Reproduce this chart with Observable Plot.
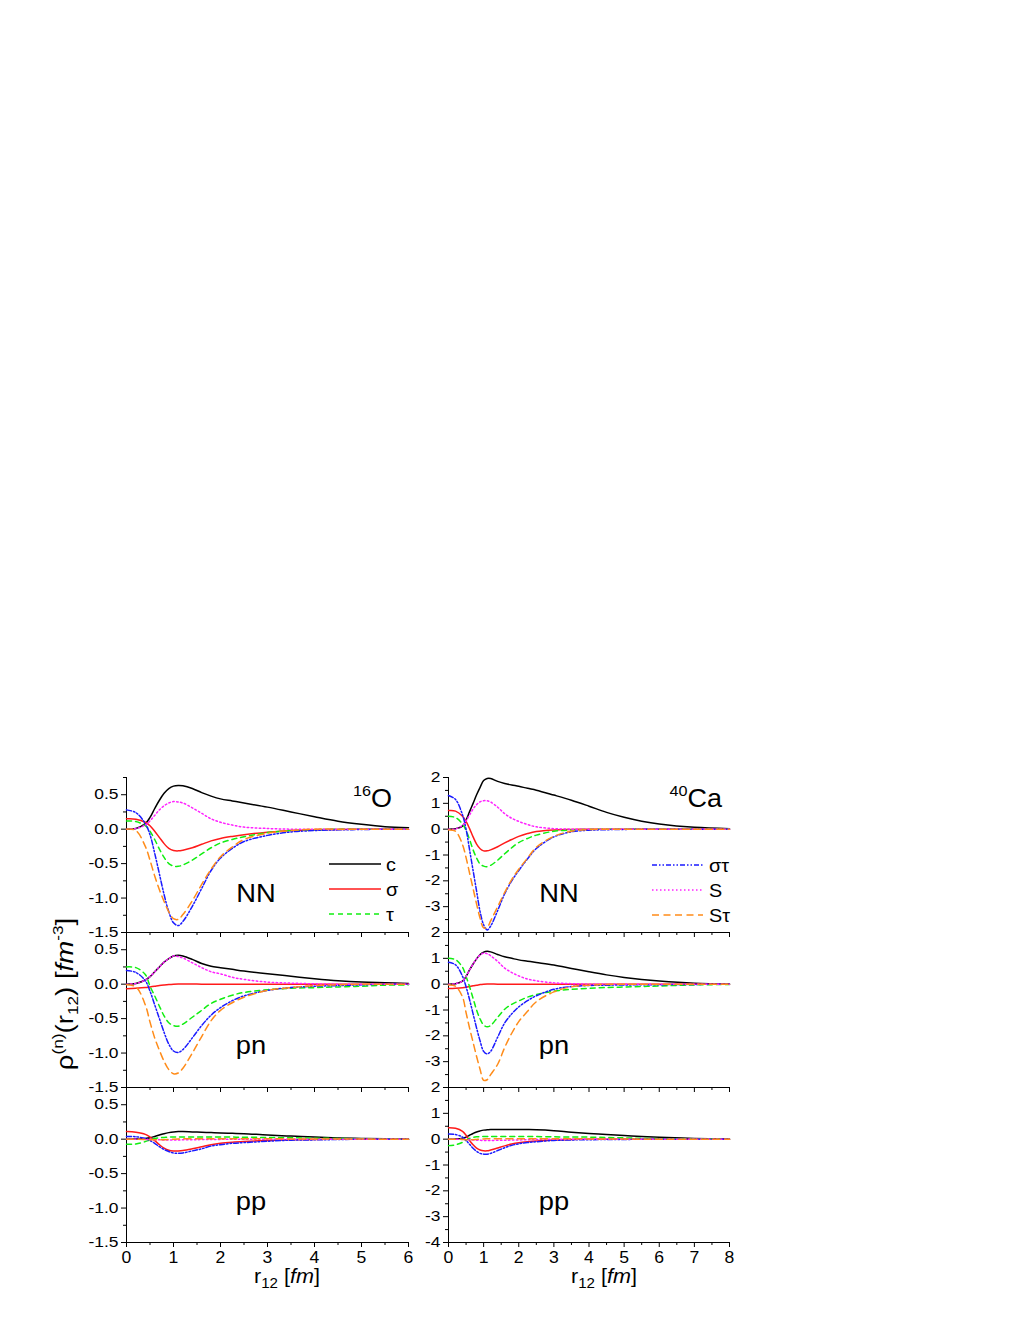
<!DOCTYPE html>
<html><head><meta charset="utf-8">
<script src="https://cdn.jsdelivr.net/npm/d3@7"></script>
<script src="https://cdn.jsdelivr.net/npm/@observablehq/plot@0.6"></script>
<style>
body{margin:0;background:#fff;font-family:"Liberation Sans",Arial,sans-serif;}
#root{position:relative;width:1035px;height:1340px;overflow:hidden;}
#root svg{position:absolute;overflow:visible;}
</style></head><body><div id="root"></div>
<script>
// ---- x grids (r12 in fm) ----
const GRID_O  = [0,0.2,0.4,0.5,0.6,0.7,0.8,0.9,1.0,1.1,1.2,1.4,1.6,1.8,2.0,2.25,2.5,3,3.5,4,4.5,5,5.5,6];
const GRID_CA = [0,0.2,0.4,0.5,0.6,0.7,0.8,0.9,1.0,1.1,1.2,1.4,1.6,1.8,2.0,2.25,2.5,3,3.5,4,4.5,5,5.5,6,7,8];

// ---- 16O NN ----
const O16_NN_c   = [0,0.01,0.08,0.17,0.3,0.42,0.52,0.59,0.625,0.635,0.63,0.59,0.53,0.48,0.44,0.41,0.38,0.32,0.25,0.18,0.115,0.07,0.035,0.02];
const O16_NN_sig = [0.15,0.145,0.1,0.05,-0.03,-0.12,-0.21,-0.28,-0.31,-0.315,-0.305,-0.27,-0.22,-0.17,-0.135,-0.105,-0.08,-0.045,-0.02,-0.01,-0.005,0,0,0];
const O16_NN_tau = [0.12,0.11,0.05,-0.03,-0.15,-0.29,-0.41,-0.5,-0.535,-0.54,-0.52,-0.45,-0.36,-0.27,-0.2,-0.15,-0.11,-0.05,-0.02,-0.01,0,0,0,0];
const O16_NN_st  = [0.28,0.24,0.08,-0.08,-0.35,-0.65,-0.95,-1.2,-1.36,-1.4,-1.34,-1.12,-0.86,-0.6,-0.42,-0.28,-0.18,-0.09,-0.04,-0.02,-0.01,-0.005,0,0];
const O16_NN_S   = [0,0.01,0.06,0.12,0.2,0.28,0.34,0.38,0.40,0.395,0.38,0.31,0.23,0.15,0.1,0.06,0.03,0.01,0,0,0,0,0,0];
const O16_NN_St  = [0,-0.02,-0.25,-0.45,-0.68,-0.88,-1.05,-1.2,-1.3,-1.31,-1.24,-1.04,-0.8,-0.58,-0.4,-0.26,-0.15,-0.06,-0.02,0,0,0,0,0];

// ---- 40Ca NN ----
const CA40_NN_c   = [0,0.02,0.12,0.35,0.68,1.0,1.33,1.62,1.88,1.96,1.96,1.85,1.77,1.71,1.66,1.58,1.51,1.32,1.12,0.89,0.65,0.46,0.31,0.2,0.07,0.02];
const CA40_NN_sig = [0.72,0.7,0.5,0.3,0.02,-0.3,-0.58,-0.76,-0.84,-0.84,-0.8,-0.68,-0.53,-0.4,-0.28,-0.17,-0.09,-0.03,-0.01,0,0,0,0,0,0,0];
const CA40_NN_tau = [0.5,0.45,0.2,-0.05,-0.4,-0.8,-1.12,-1.35,-1.43,-1.45,-1.4,-1.2,-0.95,-0.72,-0.52,-0.36,-0.23,-0.08,-0.03,-0.01,0,0,0,0,0,0];
const CA40_NN_st  = [1.3,1.15,0.55,0.0,-0.8,-1.6,-2.4,-3.2,-3.7,-3.9,-3.75,-3.15,-2.5,-2.0,-1.6,-1.15,-0.75,-0.3,-0.1,-0.04,-0.02,-0.01,0,0,0,0];
const CA40_NN_S   = [0,0.01,0.15,0.32,0.55,0.78,0.95,1.06,1.1,1.1,1.05,0.85,0.6,0.42,0.3,0.18,0.09,0.02,0,0,0,0,0,0,0,0];
const CA40_NN_St  = [-0.03,-0.08,-0.6,-1.1,-1.7,-2.3,-2.9,-3.45,-3.82,-3.8,-3.55,-3.0,-2.45,-1.95,-1.55,-1.12,-0.7,-0.28,-0.08,-0.02,0,0,0,0,0,0];

// ---- 16O pn ----
const O16_PN_c   = [0,0.01,0.06,0.11,0.18,0.25,0.32,0.37,0.41,0.42,0.41,0.36,0.3,0.26,0.24,0.215,0.19,0.15,0.115,0.08,0.05,0.03,0.02,0.01];
const O16_PN_sig = [-0.065,-0.06,-0.05,-0.04,-0.03,-0.02,-0.012,-0.005,0,0.003,0.003,0.002,0,0,0,0,0,0,0,0,0,0,0,0];
const O16_PN_tau = [0.25,0.24,0.14,-0.03,-0.17,-0.32,-0.46,-0.56,-0.6,-0.61,-0.58,-0.48,-0.38,-0.28,-0.22,-0.16,-0.12,-0.08,-0.06,-0.05,-0.04,-0.03,-0.015,-0.01];
const O16_PN_st  = [0.2,0.17,0.05,-0.1,-0.3,-0.5,-0.7,-0.87,-0.97,-0.99,-0.95,-0.78,-0.6,-0.45,-0.34,-0.24,-0.17,-0.09,-0.05,-0.03,-0.02,-0.01,0,0];
const O16_PN_S   = [0,0.01,0.06,0.11,0.18,0.25,0.32,0.37,0.41,0.4,0.38,0.31,0.24,0.18,0.15,0.1,0.07,0.03,0.015,0.005,0,0,0,0];
const O16_PN_St  = [-0.01,-0.04,-0.3,-0.55,-0.78,-0.96,-1.12,-1.24,-1.3,-1.29,-1.22,-1.0,-0.76,-0.53,-0.38,-0.27,-0.19,-0.09,-0.05,-0.02,-0.01,0,0,0];

// ---- 40Ca pn ----
const CA40_PN_c   = [0,0.02,0.12,0.3,0.55,0.78,0.98,1.15,1.24,1.27,1.25,1.15,1.06,1.0,0.94,0.89,0.84,0.74,0.61,0.48,0.36,0.26,0.18,0.12,0.04,0.01];
const CA40_PN_sig = [-0.17,-0.16,-0.14,-0.12,-0.09,-0.06,-0.04,-0.015,0,0.01,0.01,0,0,0,0,0,0,0,0,0,0,0,0,0,0,0];
const CA40_PN_tau = [1.0,0.95,0.65,0.3,-0.1,-0.55,-1.0,-1.35,-1.58,-1.65,-1.6,-1.28,-0.97,-0.78,-0.65,-0.5,-0.4,-0.27,-0.2,-0.16,-0.13,-0.11,-0.09,-0.07,-0.03,-0.01];
const CA40_PN_st  = [0.85,0.75,0.3,-0.1,-0.6,-1.15,-1.7,-2.2,-2.6,-2.7,-2.6,-2.05,-1.5,-1.15,-0.88,-0.64,-0.45,-0.2,-0.09,-0.05,-0.04,-0.03,-0.025,-0.02,-0.01,0];
const CA40_PN_S   = [0,0.02,0.12,0.3,0.55,0.78,0.98,1.13,1.2,1.18,1.1,0.88,0.62,0.45,0.32,0.2,0.13,0.05,0.02,0,0,0,0,0,0,0];
const CA40_PN_St  = [-0.03,-0.08,-0.5,-1.1,-1.7,-2.25,-2.8,-3.3,-3.72,-3.7,-3.5,-3.1,-2.45,-1.9,-1.45,-1.05,-0.68,-0.3,-0.1,-0.04,-0.01,0,0,0,0,0];

// ---- 16O pp ----
const O16_PP_c   = [0,0.003,0.01,0.02,0.04,0.06,0.08,0.095,0.105,0.11,0.11,0.105,0.1,0.095,0.09,0.085,0.08,0.06,0.045,0.03,0.018,0.01,0.005,0.002];
const O16_PP_sig = [0.11,0.1,0.07,0.03,-0.02,-0.08,-0.13,-0.16,-0.17,-0.17,-0.165,-0.14,-0.11,-0.08,-0.06,-0.045,-0.035,-0.02,-0.01,-0.005,0,0,0,0];
const O16_PP_tau = [-0.075,-0.07,-0.035,-0.01,0.01,0.02,0.025,0.03,0.03,0.03,0.03,0.03,0.03,0.03,0.03,0.03,0.028,0.025,0.02,0.015,0.01,0.005,0.002,0];
const O16_PP_st  = [0.04,0.035,0.01,-0.02,-0.06,-0.11,-0.15,-0.18,-0.2,-0.205,-0.2,-0.17,-0.14,-0.1,-0.08,-0.06,-0.05,-0.03,-0.015,-0.01,-0.005,0,0,0];
const O16_PP_S   = [0,0,-0.003,-0.005,-0.008,-0.01,-0.012,-0.012,-0.012,-0.012,-0.01,-0.008,-0.006,-0.004,-0.003,-0.002,-0.001,0,0,0,0,0,0,0];
const O16_PP_St  = [0,0,-0.005,-0.008,-0.01,-0.01,-0.008,-0.005,0,0.003,0.005,0.005,0.005,0.005,0.005,0.005,0.005,0.005,0.004,0.003,0.002,0.001,0,0];

// ---- 40Ca pp ----
const CA40_PP_c   = [0,0.01,0.04,0.08,0.15,0.22,0.28,0.32,0.35,0.36,0.37,0.37,0.37,0.37,0.37,0.37,0.365,0.33,0.27,0.22,0.18,0.14,0.1,0.07,0.03,0.01];
const CA40_PP_sig = [0.44,0.42,0.3,0.15,-0.05,-0.22,-0.35,-0.42,-0.45,-0.45,-0.42,-0.34,-0.26,-0.19,-0.14,-0.1,-0.07,-0.03,-0.01,0,0,0,0,0,0,0];
const CA40_PP_tau = [-0.25,-0.22,-0.12,-0.04,0.03,0.07,0.09,0.1,0.1,0.1,0.1,0.1,0.1,0.1,0.1,0.1,0.1,0.09,0.085,0.08,0.065,0.05,0.035,0.02,0.01,0];
const CA40_PP_st  = [0.2,0.18,0.08,-0.05,-0.2,-0.35,-0.47,-0.55,-0.58,-0.58,-0.55,-0.44,-0.33,-0.24,-0.18,-0.13,-0.1,-0.05,-0.03,-0.02,-0.015,-0.01,-0.005,0,0,0];
const CA40_PP_S   = [0,0,-0.01,-0.015,-0.02,-0.03,-0.04,-0.045,-0.05,-0.05,-0.05,-0.045,-0.04,-0.035,-0.03,-0.02,-0.01,-0.005,0,0,0,0,0,0,0,0];
const CA40_PP_St  = [0,0,-0.01,-0.02,-0.02,-0.02,-0.01,0,0.01,0.015,0.02,0.02,0.02,0.02,0.02,0.02,0.02,0.02,0.015,0.01,0.01,0.005,0,0,0,0];

// ---- series, labels, ticks ----
const SERIES = ["c","σ","τ","στ","S","Sτ"];
const COLORS = {"c":"#000000","σ":"#ff1a1a","τ":"#11ee11","στ":"#1a1aff","S":"#ff22ff","Sτ":"#ff8c1a"};
const DASH   = {"c":null,"σ":null,"τ":"5,4","στ":"5,2,1.5,2,1.5,2","S":"1.5,2.5","Sτ":"7,4.5"};
const PAIR_LABELS = ["NN","pn","pp"];
const NUCLEI = ["16O","40Ca"];
const X_DOM = [[0,6],[0,8]];
const Y_DOM = [[-1.5,0.75],[-4,2]];
const X_MAJOR = [[0,1,2,3,4,5,6],[0,1,2,3,4,5,6,7,8]];
const X_MINOR = [[0.5,1.5,2.5,3.5,4.5,5.5],[0.5,1.5,2.5,3.5,4.5,5.5,6.5,7.5]];
const Y_MAJOR = [[-1.5,-1.0,-0.5,0.0,0.5],[-4,-3,-2,-1,0,1,2]];
const Y_MINOR = [[-1.25,-0.75,-0.25,0.25,0.75],[-3.5,-2.5,-1.5,-0.5,0.5,1.5]];

const DATA = [
  [ {c:O16_NN_c,"σ":O16_NN_sig,"τ":O16_NN_tau,"στ":O16_NN_st,S:O16_NN_S,"Sτ":O16_NN_St},
    {c:O16_PN_c,"σ":O16_PN_sig,"τ":O16_PN_tau,"στ":O16_PN_st,S:O16_PN_S,"Sτ":O16_PN_St},
    {c:O16_PP_c,"σ":O16_PP_sig,"τ":O16_PP_tau,"στ":O16_PP_st,S:O16_PP_S,"Sτ":O16_PP_St} ],
  [ {c:CA40_NN_c,"σ":CA40_NN_sig,"τ":CA40_NN_tau,"στ":CA40_NN_st,S:CA40_NN_S,"Sτ":CA40_NN_St},
    {c:CA40_PN_c,"σ":CA40_PN_sig,"τ":CA40_PN_tau,"στ":CA40_PN_st,S:CA40_PN_S,"Sτ":CA40_PN_St},
    {c:CA40_PP_c,"σ":CA40_PP_sig,"τ":CA40_PP_tau,"στ":CA40_PP_st,S:CA40_PP_S,"Sτ":CA40_PP_St} ]
];
const GRIDS = [GRID_O, GRID_CA];

// ---- layout ----
const root = document.getElementById("root");
const COL_LEFT = [126, 448], COL_W = [282, 281];
const ROW_TOP = [777, 932, 1087], ROW_H = 155;
const FMT = [d => d.toFixed(1), d => String(d)];

// widen tick labels slightly (the reference's lettering is horizontally stretched)
function stretchTexts(svg) {
  svg.querySelectorAll("text").forEach(t => {
    const cs = getComputedStyle(t);
    const sx = cs.textAnchor === "end" ? 1.2 : 1.1;
    const fs = parseFloat(cs.fontSize) || 10;
    const xa = t.getAttribute("x");
    let x = 0;
    if (xa != null) {
      x = /em$/.test(xa) ? parseFloat(xa) * fs : (parseFloat(xa) || 0);
      t.removeAttribute("x");
    }
    const tr = t.getAttribute("transform") || "";
    t.setAttribute("transform", `${tr} translate(${x},0) scale(${sx},1)`);
  });
}

for (let col = 0; col < 2; col++) {
  for (let row = 0; row < 3; row++) {
    const grid = GRIDS[col], set = DATA[col][row];
    const rows = [];
    SERIES.forEach(s => set[s].forEach((v, i) => rows.push({s, x: grid[i], y: v})));
    const mL = 55, mR = 20, mT = 10, mB = row === 2 ? 30 : 10;
    const yLab = (col === 1 && row < 2) ? Y_MAJOR[1].filter(v => v !== -4) : Y_MAJOR[col];
    const marks = [
      Plot.axisY({ticks: Y_MINOR[col], tickSize: 3, tickFormat: () => "", label: null}),
      Plot.axisY({ticks: yLab, tickSize: 5, tickPadding: 3, tickFormat: FMT[col], label: null, fontSize: 14.5}),
      Plot.axisX({ticks: X_MINOR[col], tickSize: 3, tickFormat: () => "", label: null}),
      Plot.axisX({ticks: X_MAJOR[col], tickSize: 5, tickPadding: 4, tickFormat: row === 2 ? (d => String(d)) : (() => ""), label: null, fontSize: 16}),
      Plot.ruleX([X_DOM[col][0]], {stroke: "#000"}),
      Plot.ruleY([Y_DOM[col][0]], {stroke: "#000"}),
      ...SERIES.map(s => Plot.line(rows.filter(r => r.s === s), {
        x: "x", y: "y", stroke: COLORS[s], strokeWidth: 1.5,
        strokeDasharray: DASH[s] || undefined, curve: "catmull-rom"
      }))
    ];
    const svg = Plot.plot({
      width: COL_W[col] + mL + mR, height: ROW_H + mT + mB,
      marginLeft: mL, marginRight: mR, marginTop: mT, marginBottom: mB,
      x: {domain: X_DOM[col]}, y: {domain: Y_DOM[col]},
      style: {background: "transparent", overflow: "visible", fontFamily: "'Liberation Sans', Arial, sans-serif", color: "#000"},
      marks
    });
    svg.style.left = (COL_LEFT[col] - mL) + "px";
    svg.style.top = (ROW_TOP[row] - mT) + "px";
    root.appendChild(svg);
    stretchTexts(svg);
  }
}

// ---- overlay: annotations, legends, axis titles ----
const ov = d3.select(root).append("svg")
  .attr("width", 1035).attr("height", 1340)
  .style("left", "0px").style("top", "0px")
  .style("font-family", "'Liberation Sans', Arial, sans-serif")
  .style("white-space", "pre");

// pair labels
const PAIR_POS = [[[256,902],[251,1054],[251,1210]],[[559,902],[554,1054],[554,1210]]];
for (let col = 0; col < 2; col++) for (let row = 0; row < 3; row++) {
  ov.append("text").attr("transform", `translate(${PAIR_POS[col][row][0]},${PAIR_POS[col][row][1]}) scale(1.05,1)`)
    .attr("text-anchor", "middle").attr("font-size", 26).text(PAIR_LABELS[row]);
}
// nucleus labels
const NUC_POS = [[392, 807], [722, 807]];
NUCLEI.forEach((n, i) => {
  const m = n.match(/^(\d+)(.*)$/);
  const t = ov.append("text").attr("transform", `translate(${NUC_POS[i][0]},${NUC_POS[i][1]}) scale(1.08,1)`)
    .attr("text-anchor", "end").attr("font-size", 25);
  t.append("tspan").attr("font-size", 15).attr("dy", -11).text(m[1]);
  t.append("tspan").attr("dy", 11).text(m[2]);
});
// legends
const LEG = [
  {x0: 329, x1: 381, tx: 386, ys: [864, 889, 914], keys: ["c","σ","τ"]},
  {x0: 652, x1: 703, tx: 709, ys: [865, 890, 915], keys: ["στ","S","Sτ"]}
];
LEG.forEach(L => L.keys.forEach((k, i) => {
  ov.append("line").attr("x1", L.x0).attr("x2", L.x1).attr("y1", L.ys[i]).attr("y2", L.ys[i])
    .attr("stroke", COLORS[k]).attr("stroke-width", 1.5).attr("stroke-dasharray", DASH[k]);
  ov.append("text").attr("transform", `translate(${L.tx},${L.ys[i] + 6.5}) scale(1.1,1)`)
    .attr("font-size", 18).text(k);
}));
// x titles
[[287, 1283], [604, 1283]].forEach(([x, y]) => {
  const t = ov.append("text").attr("transform", `translate(${x},${y}) scale(1.08,1)`)
    .attr("text-anchor", "middle").attr("font-size", 20);
  t.append("tspan").text("r");
  t.append("tspan").attr("font-size", 14).attr("dy", 5).text("12");
  t.append("tspan").attr("dy", -5).text(" [");
  t.append("tspan").attr("font-style", "italic").text("fm");
  t.append("tspan").text("]");
});
// y title
{
  const t = ov.append("text").attr("transform", "translate(73,994) rotate(-90) scale(1.15,1)")
    .attr("text-anchor", "middle").attr("font-size", 24);
  t.append("tspan").text("ρ");
  t.append("tspan").attr("font-size", 15).attr("dy", -10).text("(n)");
  t.append("tspan").attr("dy", 10).text("(r");
  t.append("tspan").attr("font-size", 15).attr("dy", 5).text("12");
  t.append("tspan").attr("dy", -5).text(")  [");
  t.append("tspan").attr("font-style", "italic").text("fm");
  t.append("tspan").attr("font-size", 15).attr("dy", -10).text("-3");
  t.append("tspan").attr("dy", 10).text("]");
}
</script></body></html>
